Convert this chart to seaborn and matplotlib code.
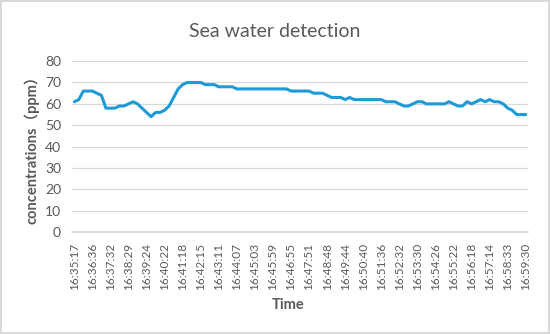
import numpy as np
import pandas as pd
import matplotlib.pyplot as plt
import seaborn as sns

# concentration readings (ppm), one per sample
ppm = [61, 62, 66, 66, 66, 65, 64, 58, 58, 58,
       59, 59, 60, 61, 60, 58, 56, 54, 56, 56,
       57, 59, 63, 67, 69, 70, 70, 70, 70, 69,
       69, 69, 68, 68, 68, 68, 67, 67, 67, 67,
       67, 67, 67, 67, 67, 67, 67, 67, 66, 66,
       66, 66, 66, 65, 65, 65, 64, 63, 63, 63,
       62, 63, 62, 62, 62, 62, 62, 62, 62, 61,
       61, 61, 60, 59, 59, 60, 61, 61, 60, 60,
       60, 60, 60, 61, 60, 59, 59, 61, 60, 61,
       62, 61, 62, 61, 61, 60, 58, 57, 55, 55,
       55]

# time labels shown on the category axis (every 4th sample)
time_labels = ["16:35:17", "16:36:36", "16:37:32", "16:38:29", "16:39:24",
               "16:40:22", "16:41:18", "16:42:15", "16:43:11", "16:44:07",
               "16:45:03", "16:45:59", "16:46:55", "16:47:51", "16:48:48",
               "16:49:44", "16:50:40", "16:51:36", "16:52:32", "16:53:30",
               "16:54:26", "16:55:22", "16:56:18", "16:57:14", "16:58:33",
               "16:59:30"]
label_step = 4

df = pd.DataFrame({"sample": np.arange(len(ppm)), "ppm": ppm})

sns.set_theme(style="white")
plt.rcParams["font.family"] = ["Lato", "Noto Sans CJK SC", "DejaVu Sans"]
grey = "#595959"

fig = plt.figure(figsize=(5.5, 3.34), dpi=100)
fig.patch.set_edgecolor("#d9d9d9")
fig.patch.set_linewidth(1.5)
ax = fig.add_axes([0.131, 0.305, 0.829, 0.512])

sns.lineplot(data=df, x="sample", y="ppm", ax=ax, color="#1f9ad8", linewidth=2.2)

ax.set_ylim(0, 80)
ax.set_yticks(range(0, 81, 10))
ax.set_xlim(-0.5, len(ppm) - 0.5)
ax.set_xticks(np.arange(0, len(ppm), label_step))
ax.set_xticklabels(time_labels, rotation=90)
ax.grid(axis="y", color="#d9d9d9", linewidth=0.9)
for s in ["top", "right", "left"]:
    ax.spines[s].set_visible(False)
ax.spines["bottom"].set_color("#d9d9d9")
ax.tick_params(axis="both", colors=grey, length=0)
ax.tick_params(axis="x", labelsize=8.5, pad=8)
ax.tick_params(axis="y", labelsize=10, pad=8)

ax.set_xlabel("Time", fontsize=10.5, fontweight="bold", color=grey)
ax.xaxis.set_label_coords(0.474, -0.385)
ax.set_ylabel("concentrations（ppm）", fontsize=10.5, fontweight="bold", color=grey)
fig.text(0.5, 1 - 37 / 334, "Sea water detection", fontsize=14, color=grey,
         ha="center", va="baseline")

plt.savefig("out.png", dpi=100)
